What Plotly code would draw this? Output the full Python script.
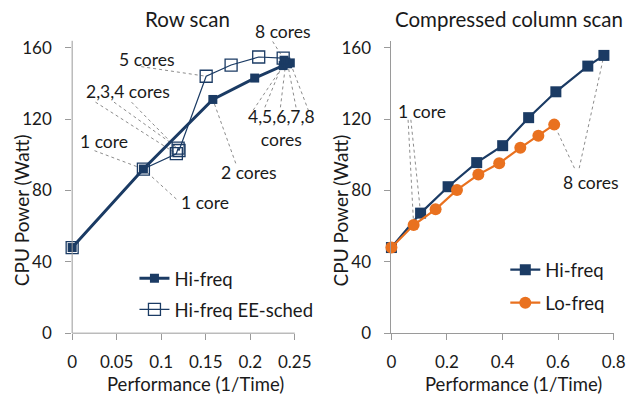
import plotly.graph_objects as go

# ---- Row scan: performance (1/time) vs CPU power (W) ----
row_hi_perf = [0, 0.080, 0.158, 0.205, 0.237, 0.238, 0.240, 0.242, 0.245]
row_hi_power = [48, 92, 131, 143, 150, 153, 152, 151, 151.5]
row_ee_perf = [0, 0.080, 0.117, 0.119, 0.120, 0.1505, 0.1785, 0.2095, 0.237]
row_ee_power = [48, 92, 100.6, 103.7, 102.4, 144, 150.3, 154.8, 154.2]

# ---- Compressed column scan ----
col_hi_perf = [0, 0.105, 0.204, 0.307, 0.4005, 0.494, 0.592, 0.707, 0.765]
col_hi_power = [48, 67.3, 82.1, 95.6, 105.1, 120.8, 135.3, 149.7, 155.7]
col_lo_perf = [0, 0.080, 0.159, 0.236, 0.313, 0.388, 0.464, 0.529, 0.586]
col_lo_power = [48, 60.6, 69.4, 80.3, 88.9, 95.2, 103.9, 110.6, 116.9]

row_xticks = [0, 0.05, 0.1, 0.15, 0.2, 0.25]
row_xticktext = ["0", "0.05", "0.1", "0.15", "0.2", "0.25"]
col_xticks = [0, 0.2, 0.4, 0.6, 0.8]
col_xticktext = ["0", "0.2", "0.4", "0.6", "0.8"]
power_ticks = [0, 40, 80, 120, 160]

NAVY = "#1B3B64"
ORANGE = "#E9711F"
AXIS = "#9A9A9A"
LEADER = "#8C8C8C"
TEXT = "#1A1A1A"
FONT = "Lato"

W, H = 638, 404


def px_x(p):
    return p / W


def px_y(p):
    return 1 - p / H


fig = go.Figure()

fig.add_trace(go.Scatter(
    x=row_hi_perf, y=row_hi_power, name="Hi-freq", mode="lines+markers",
    line=dict(color=NAVY, width=3), marker=dict(symbol="square", size=9, color=NAVY),
    xaxis="x", yaxis="y", legend="legend", legendgroup="a", cliponaxis=False))
fig.add_trace(go.Scatter(
    x=row_ee_perf, y=row_ee_power, name="Hi-freq EE-sched", mode="lines+markers",
    line=dict(color=NAVY, width=1.2),
    marker=dict(symbol="square-open", size=12, color=NAVY, line=dict(width=1.3)),
    xaxis="x", yaxis="y", legend="legend", legendgroup="b", cliponaxis=False))
fig.add_trace(go.Scatter(
    x=col_hi_perf, y=col_hi_power, name="Hi-freq", mode="lines+markers",
    line=dict(color=NAVY, width=2.2), marker=dict(symbol="square", size=11, color=NAVY),
    xaxis="x2", yaxis="y2", legend="legend2", legendgroup="c", cliponaxis=False))
fig.add_trace(go.Scatter(
    x=col_lo_perf, y=col_lo_power, name="Lo-freq", mode="lines+markers",
    line=dict(color=ORANGE, width=2.2), marker=dict(symbol="circle", size=12, color=ORANGE),
    xaxis="x2", yaxis="y2", legend="legend2", legendgroup="d", cliponaxis=False))

# Leader lines: (axes, series, point index, far end x, far end y)
row_series = {"hi": (row_hi_perf, row_hi_power), "ee": (row_ee_perf, row_ee_power)}
col_series = {"hi": (col_hi_perf, col_hi_power), "lo": (col_lo_perf, col_lo_power)}
leaders = [
    ("row", "ee", 8, 0.2252, 163.5),
    ("row", "ee", 5, 0.0776, 149.4),
    ("row", "ee", 2, 0.0262, 129.5),
    ("row", "ee", 3, 0.0470, 129.5),
    ("row", "ee", 4, 0.0667, 129.5),
    ("row", "ee", 1, 0.0251, 102.3),
    ("row", "hi", 1, 0.1170, 75.2),
    ("row", "hi", 2, 0.1837, 95.2),
    ("row", "hi", 4, 0.2033, 125.0),
    ("row", "hi", 5, 0.2164, 126.6),
    ("row", "hi", 6, 0.2339, 126.6),
    ("row", "hi", 7, 0.2514, 126.6),
    ("row", "hi", 8, 0.2656, 124.5),
    ("col", "hi", 1, 0.0700, 119.6),
    ("col", "lo", 1, 0.0600, 119.6),
    ("col", "lo", 8, 0.6590, 92.5),
    ("col", "hi", 8, 0.6760, 92.5),
]
shapes = []
for panel, key, idx, ex, ey in leaders:
    xs, ys = (row_series if panel == "row" else col_series)[key]
    xr, yr = ("x", "y") if panel == "row" else ("x2", "y2")
    shapes.append(dict(type="line", xref=xr, yref=yr, x0=ex, y0=ey, x1=xs[idx], y1=ys[idx],
                       line=dict(color=LEADER, width=1, dash="3px,3px"), layer="below"))

# Axis lines drawn separately so the row-scan x range can extend past 0.25
shapes.append(dict(type="line", xref="x", yref="y domain", x0=0, x1=0.25, y0=0, y1=0,
                   line=dict(color=AXIS, width=1)))
shapes.append(dict(type="line", xref="x domain", yref="y", x0=0, x1=0, y0=0, y1=164,
                   line=dict(color=AXIS, width=1)))

labels = [
    ("8 cores", 285.5, 29),
    ("5 cores", 145.5, 57),
    ("2,3,4 cores", 126.5, 91),
    ("1 core", 101.5, 142.7),
    ("1 core", 205, 206),
    ("2 cores", 250.5, 175),
    ("4,5,6,7,8<br>cores", 284, 128.5),
    ("1 core", 428.5, 111.7),
    ("8 cores", 602.5, 185),
]
annotations = []
for text, cx, cy in labels:
    annotations.append(dict(text=text, x=px_x(cx), y=px_y(cy), xref="paper", yref="paper",
                            xanchor="center", yanchor="middle", showarrow=False,
                            font=dict(family=FONT, size=17.5, color=TEXT)))

for text, cx, cy in [("Row scan", 187.5, 15.7), ("Compressed column scan", 518, 15.7)]:
    annotations.append(dict(text=text, x=px_x(cx), y=px_y(cy), xref="paper", yref="paper",
                            xanchor="center", yanchor="middle", showarrow=False,
                            font=dict(family=FONT, size=20.5, color=TEXT)))

for text, cx, cy in [("Performance (1/Time)", 195.5, 394), ("Performance (1/Time)", 522.5, 394)]:
    annotations.append(dict(text=text, x=px_x(cx), y=px_y(cy), xref="paper", yref="paper",
                            xanchor="center", yanchor="middle", showarrow=False,
                            font=dict(family=FONT, size=18.5, color=TEXT)))
for cx in (17, 345):
    annotations.append(dict(text="CPU Power (Watt)", x=px_x(cx), y=px_y(214), xref="paper",
                            yref="paper", xanchor="center", yanchor="middle", textangle=-90,
                            showarrow=False, font=dict(family=FONT, size=19, color=TEXT)))

tick_font = dict(family=FONT, size=17, color=TEXT)
y_top = 164
y_dom = [1 - 341 / H, 1 - (341 - y_top * (341 - 45.3) / 160) / H]

axis_common = dict(ticks="outside", ticklen=6, tickcolor=AXIS, showgrid=False,
                   zeroline=False, tickfont=tick_font)

fig.update_layout(
    width=W, height=H, margin=dict(l=0, r=0, t=0, b=0),
    paper_bgcolor="white", plot_bgcolor="white",
    font=dict(family=FONT, color=TEXT),
    xaxis=dict(domain=[69 / W, (69 + 0.275 * 914.8) / W], range=[0, 0.275],
               tickvals=row_xticks, ticktext=row_xticktext, showline=False,
               anchor="y", ticklabelstandoff=7, **axis_common),
    yaxis=dict(domain=y_dom, range=[0, y_top], tickvals=power_ticks, showline=False,
               anchor="x", ticklabelstandoff=10, **axis_common),
    xaxis2=dict(domain=[397 / W, 625.3 / W], range=[0, 0.8], tickvals=col_xticks,
                ticktext=col_xticktext, showline=True, linecolor=AXIS, anchor="y2",
                ticklabelstandoff=7, **axis_common),
    yaxis2=dict(domain=y_dom, range=[0, y_top], tickvals=power_ticks, showline=True,
                linecolor=AXIS, anchor="x2", ticklabelstandoff=10, **axis_common),
    legend=dict(x=px_x(133), y=px_y(265), xanchor="left", yanchor="top",
                font=dict(family=FONT, size=18.5, color=TEXT), bgcolor="rgba(0,0,0,0)",
                tracegroupgap=4, itemwidth=30),
    legend2=dict(x=px_x(514), y=px_y(256), xanchor="left", yanchor="top",
                 font=dict(family=FONT, size=18.5, color=TEXT), bgcolor="rgba(0,0,0,0)",
                 tracegroupgap=6, itemwidth=30),
    shapes=shapes, annotations=annotations,
)

fig.write_html("out.html")
